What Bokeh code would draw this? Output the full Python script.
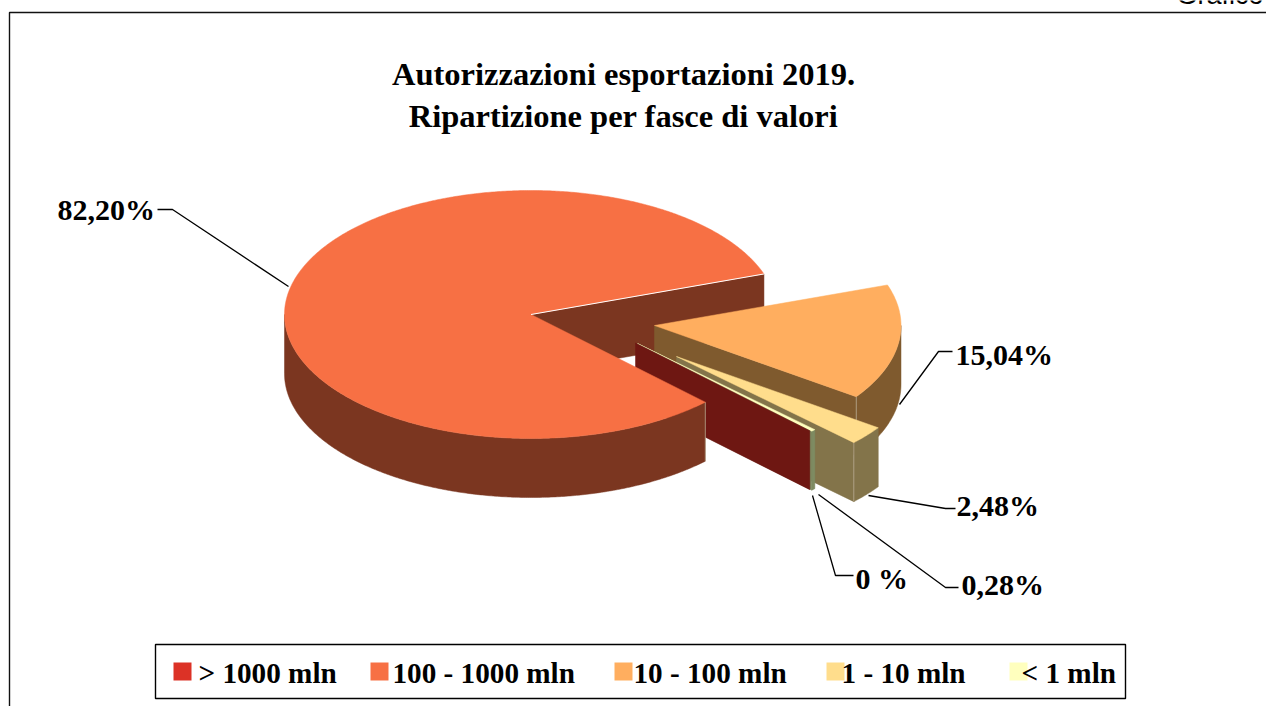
import numpy as np
from bokeh.plotting import figure
from bokeh.models import Range1d
from bokeh.core.properties import value
from bokeh.embed import file_html
from bokeh.resources import INLINE

# data
categories = ["> 1000 mln", "100 - 1000 mln", "10 - 100 mln", "1 - 10 mln", "< 1 mln"]
shares = [0.0, 82.20, 15.04, 2.48, 0.28]
share_labels = ["0 %", "82,20%", "15,04%", "2,48%", "0,28%"]
title_lines = ["Autorizzazioni esportazioni 2019.", "Ripartizione per fasce di valori"]

# styles
top_colors = ["#DC3226", "#F77044", "#FFAE5F", "#FFDD8C", "#FFFFBE"]
wall_colors = ["#6E1712", "#7B3620", "#7F5A2E", "#83744A", "#7E8B62"]
SERIF = value("Liberation Serif")

# layout (pixels)
W, H = 1266, 706
RX, RY, DEPTH = 246.5, 124, 59
START = -45.0
apex = [(635, 342.5), (530.5, 314), (654, 325), (676, 356), (637, 343)]
label_xy = [(855, 578), (57, 209), (955, 354), (956, 505), (961, 584)]
leaders = [
    ([812, 835, 853], [495, 575, 575]),
    ([157, 172, 288], [209, 209, 286]),
    ([899, 938, 952], [404, 351, 351]),
    ([868, 945, 955], [495, 508, 508]),
    ([818, 945, 958], [494, 587, 587]),
]
swatch_x = [173, 370, 614, 826, 1009]
legend_text_x = [198, 392, 633, 841, 1021]

p = figure(width=W, height=H, x_range=Range1d(0, W), y_range=Range1d(H, 0),
           output_backend="svg", toolbar_location=None, min_border=0,
           margin=(0, 0, 0, 0), background_fill_color="white", border_fill_color="white")
p.axis.visible = False
p.grid.visible = False
p.outline_line_color = None

# slice angles, clockwise from the start angle
edges = [START]
for v in shares:
    edges.append(edges[-1] - v * 3.6)


def pt(c, a, drop=0.0):
    r = np.radians(a)
    return c[0] + RX * np.cos(r), c[1] - RY * np.sin(r) + drop


def arc(c, a0, a1, drop=0.0):
    n = max(2, int(abs(a1 - a0) * 2) + 2)
    return zip(*[pt(c, a, drop) for a in np.linspace(a0, a1, n)])


def top(i):
    a0, a1 = edges[i], edges[i + 1]
    xs, ys = arc(apex[i], a0, a1)
    p.patch([apex[i][0], *xs], [apex[i][1], *ys], fill_color=top_colors[i], line_color=top_colors[i], line_width=0.5)


def cut_wall(i, a, line=None):
    c = apex[i]
    x, y = pt(c, a)
    p.patch([c[0], x, x, c[0]], [c[1], y, y + DEPTH, c[1] + DEPTH],
            fill_color=wall_colors[i], line_color=wall_colors[i], line_width=0.5)


def rim_wall(i, a0, a1):
    xs, ys = arc(apex[i], a0, a1)
    xb, yb = arc(apex[i], a0, a1, DEPTH)
    p.patch([*xs, *xb[::-1]], [*ys, *yb[::-1]], fill_color=wall_colors[i], line_color=wall_colors[i], line_width=0.5)


def corner(i, a):
    x, y = pt(apex[i], a)
    p.line([x, x], [y, y + DEPTH], line_color="#B9A890", line_width=0.8)


# main slice back cut wall
cut_wall(1, edges[2])
# 10-100
cut_wall(2, edges[3])
rim_wall(2, edges[3], -360)
corner(2, edges[3])
top(2)
# 1-10
cut_wall(3, edges[4])
rim_wall(3, edges[4], edges[3])
corner(3, edges[4])
top(3)
# < 1
cut_wall(4, edges[5])
rim_wall(4, edges[5], edges[4])
top(4)
# > 1000 : only its wall shows
cut_wall(0, edges[0])
# main slice
rim_wall(1, edges[1], -180)
corner(1, edges[1])
top(1)
ex, ey = pt(apex[1], edges[2])
p.line([apex[1][0], ex], [apex[1][1], ey], line_color="white", line_width=1)

# leaders and labels
for (lx, ly), lab, (tx, ty) in zip(leaders, share_labels, label_xy):
    p.line(lx, ly, line_color="black", line_width=1.3)
    p.text([tx], [ty], text=[lab], text_font=SERIF, text_font_style="bold", text_font_size="30px",
           text_align="left", text_baseline="alphabetic", text_color="black")

# title
for line, y in zip(title_lines, [73, 115]):
    p.text([623], [y], text=[line], text_font=SERIF, text_font_style="bold", text_font_size="32.5px",
           text_align="center", text_baseline="alphabetic", text_color="black")

# frame and page furniture
p.line([1266, 9, 9], [12, 12, 706], line_color="#111111", line_width=1.4)
p.text([1263], [-6], text=["Grafico"], text_font=value("Liberation Sans"), text_font_size="27px",
       text_align="right", text_baseline="alphabetic", text_color="black")

# legend
p.quad(left=[155], right=[1125], top=[644], bottom=[698], fill_color="white", line_color="black", line_width=1.4)
for c, sx, tx, col in zip(categories, swatch_x, legend_text_x, top_colors):
    p.quad(left=[sx], right=[sx + 18], top=[662], bottom=[680], fill_color=col, line_color=None)
    p.text([tx], [672], text=[c], text_font=SERIF, text_font_style="bold", text_font_size="29.2px",
           text_align="left", text_baseline="alphabetic", text_color="black")

open("out.html", "w").write(file_html(p, INLINE))
